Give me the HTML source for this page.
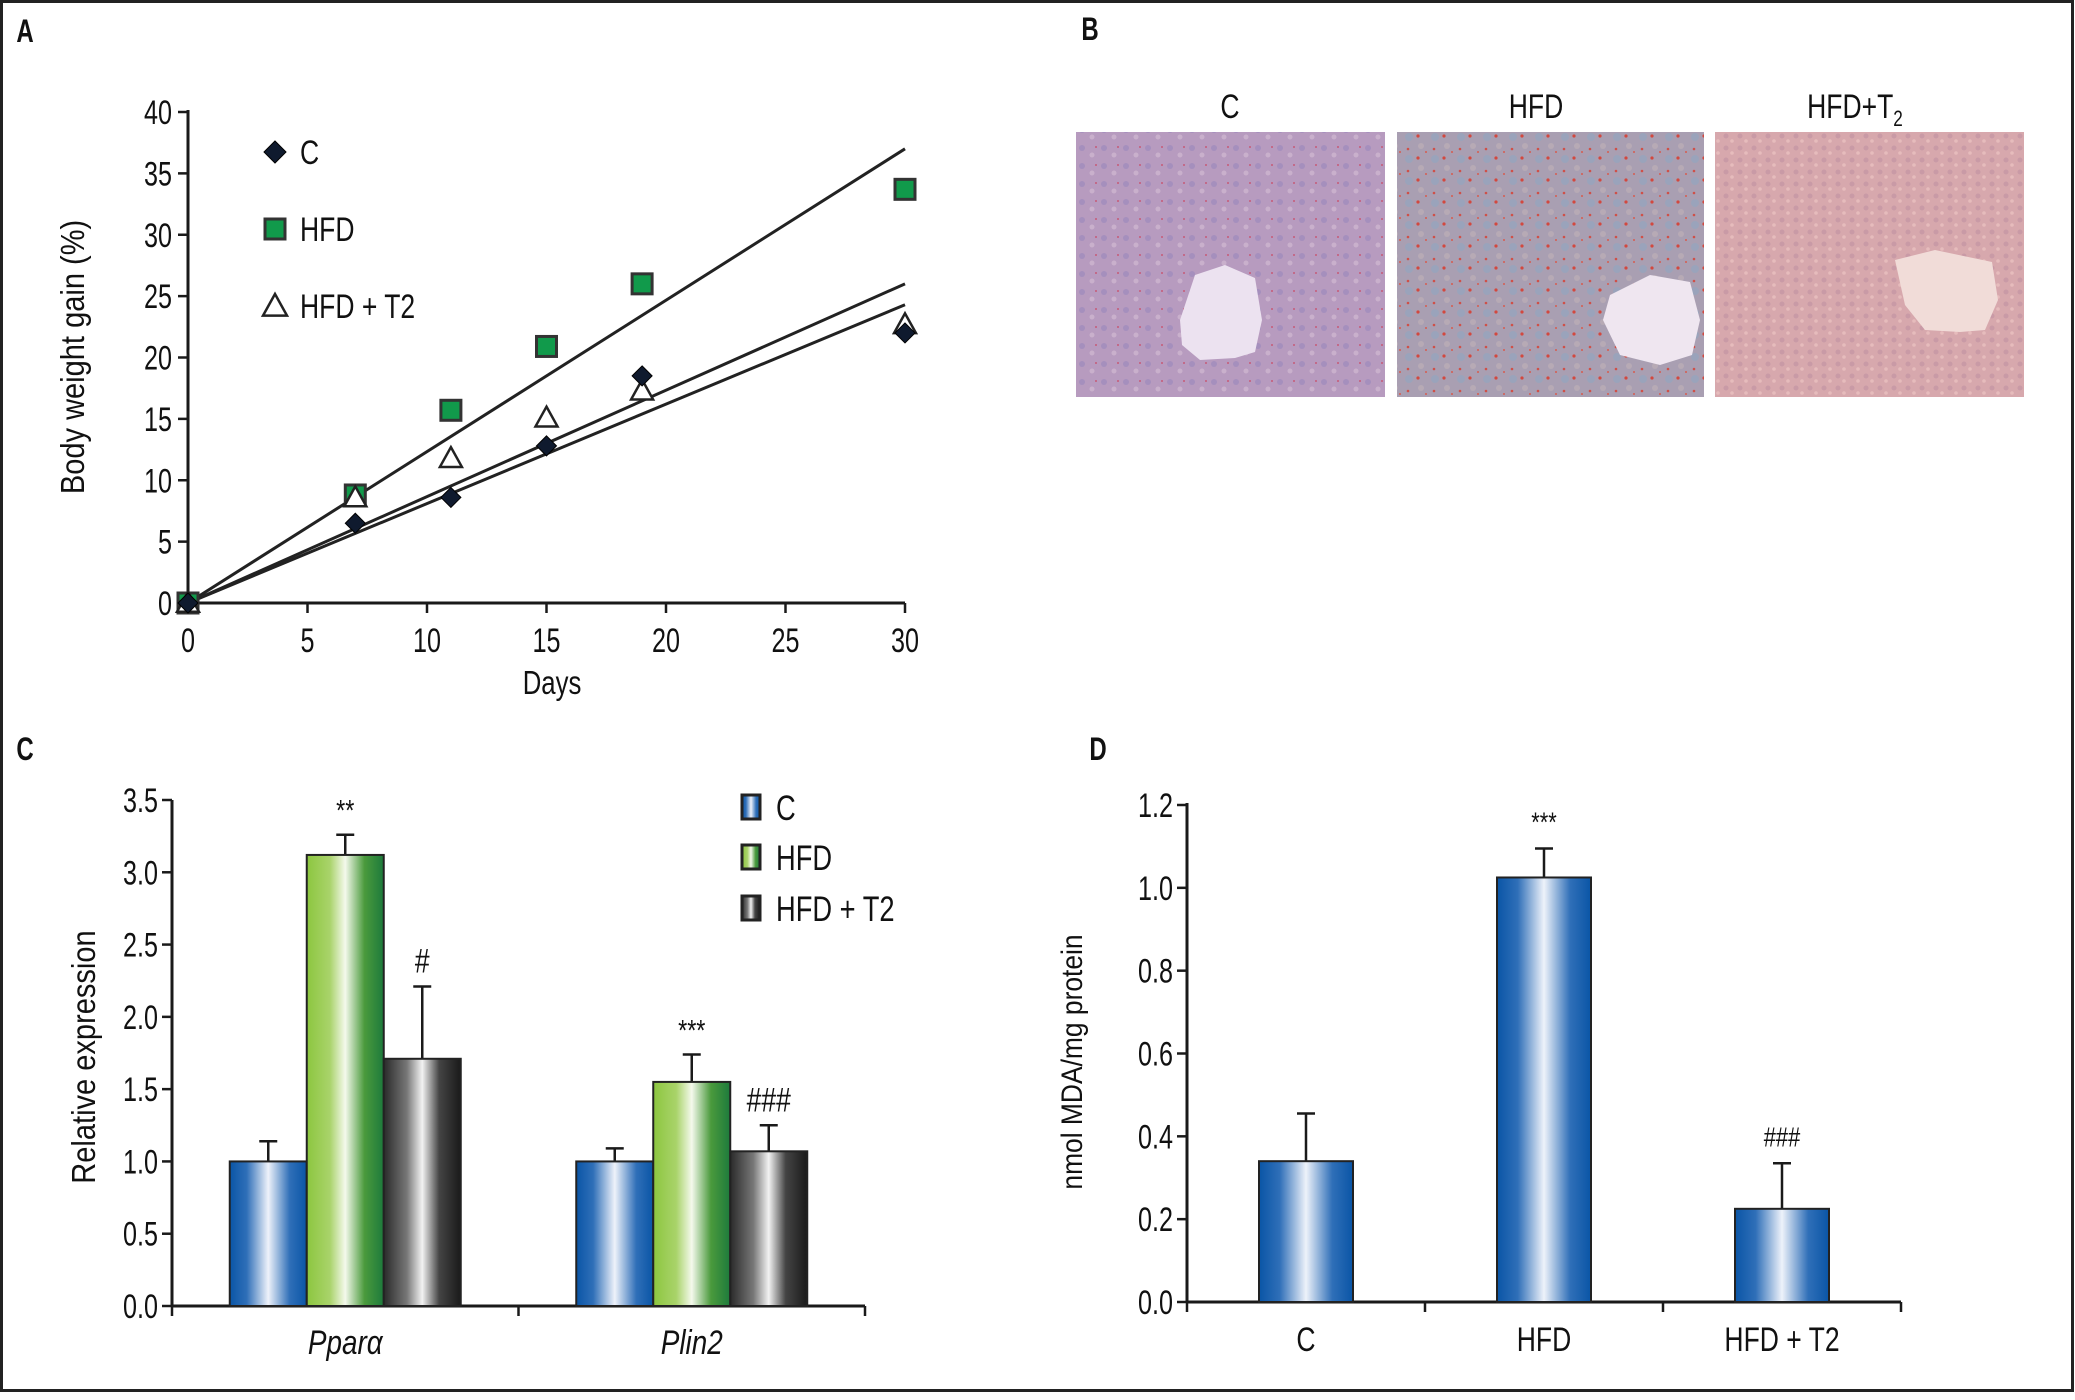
<!DOCTYPE html>
<html><head><meta charset="utf-8"><style>
html,body{margin:0;padding:0;background:#fff;}
svg{display:block;font-family:"Liberation Sans",sans-serif;}
</style></head><body>
<svg id="fig" width="2075" height="1400" viewBox="0 0 2075 1400" xmlns="http://www.w3.org/2000/svg">
<defs>
<linearGradient id="gBlue" x1="0" x2="1" y1="0" y2="0"><stop offset="0" stop-color="#0a55a6"/><stop offset="0.22" stop-color="#2f6fb8"/><stop offset="0.5" stop-color="#eef2fa"/><stop offset="0.78" stop-color="#2f6fb8"/><stop offset="1" stop-color="#0a55a6"/></linearGradient>
<linearGradient id="gGreen" x1="0" x2="1" y1="0" y2="0"><stop offset="0" stop-color="#8cc63f"/><stop offset="0.3" stop-color="#a9d36a"/><stop offset="0.5" stop-color="#f4f9ec"/><stop offset="0.75" stop-color="#4a9a3c"/><stop offset="1" stop-color="#1d7a3c"/></linearGradient>
<linearGradient id="gBlack" x1="0" x2="1" y1="0" y2="0"><stop offset="0" stop-color="#2a2a2a"/><stop offset="0.3" stop-color="#777"/><stop offset="0.5" stop-color="#f2f2f2"/><stop offset="0.72" stop-color="#444"/><stop offset="1" stop-color="#1a1a1a"/></linearGradient>
<pattern id="pC" width="22" height="18" patternUnits="userSpaceOnUse"><rect width="22" height="18" fill="#b79bbf"/><circle cx="4" cy="4" r="3" fill="#a58fbd"/><circle cx="14" cy="11" r="2.5" fill="#c9b0cc"/><circle cx="18" cy="3" r="1" fill="#c65a78"/></pattern>
<pattern id="pH" width="26" height="22" patternUnits="userSpaceOnUse"><rect width="26" height="22" fill="#a99fb2"/><circle cx="5" cy="5" r="4" fill="#9aa3bb"/><circle cx="17" cy="14" r="3" fill="#b7aab5"/><circle cx="14" cy="4" r="1.6" fill="#d2483f"/><circle cx="4" cy="17" r="1.3" fill="#cf5048"/><circle cx="22" cy="20" r="1" fill="#d65b4f"/></pattern>
<pattern id="pT" width="14" height="12" patternUnits="userSpaceOnUse"><rect width="14" height="12" fill="#d7a8ad"/><circle cx="4" cy="4" r="2.5" fill="#c99aa6"/><circle cx="10" cy="9" r="1.8" fill="#e6bcbc"/></pattern>
</defs>
<rect x="1.5" y="1.5" width="2071" height="1389" fill="none" stroke="#222" stroke-width="3"/>
</svg>
<script>
// ---------- Panel A data ----------
const daysA = [0, 7, 11, 15, 19, 30];
const gainC = [0, 6.5, 8.6, 12.8, 18.5, 22];
const gainHFD = [0, 8.8, 15.7, 20.9, 26, 33.7];
const gainT2 = [0, 8.6, 11.8, 15.1, 17.3, 22.7];
const fitEndA = [24.3, 37, 26];          // fitted line values at day 30: C, HFD, HFD+T2
const yTicksA = [0, 5, 10, 15, 20, 25, 30, 35, 40];
const xTicksA = [0, 5, 10, 15, 20, 25, 30];
// ---------- Panel C data ----------
const genesC = ["Ppar\u03b1", "Plin2"];
const exprC = [1.0, 1.0];
const exprHFD = [3.12, 1.55];
const exprT2 = [1.71, 1.07];
const errC = [0.14, 0.09];
const errHFD = [0.14, 0.19];
const errT2 = [0.50, 0.18];
const sigHFD = ["**", "***"];
const sigT2 = ["#", "###"];
const yTicksC = ["0.0", "0.5", "1.0", "1.5", "2.0", "2.5", "3.0", "3.5"];
// ---------- Panel D data ----------
const groupsD = ["C", "HFD", "HFD + T2"];
const mdaD = [0.34, 1.025, 0.225];
const mdaErr = [0.115, 0.07, 0.11];
const sigD = ["", "***", "###"];
const yTicksD = ["0.0", "0.2", "0.4", "0.6", "0.8", "1.0", "1.2"];

const svg = document.getElementById('fig');
const NS = 'http://www.w3.org/2000/svg';
function mk(tag, attrs, name) {
  const el = document.createElementNS(NS, tag);
  for (const k in attrs) el.setAttribute(k, attrs[k]);
  
  
  svg.appendChild(el);
  return el;
}
function txt(x, y, s, size, anchor, name, opts) {
  opts = opts || {};
  const sx = opts.sx || 0.78;
  const el = document.createElementNS(NS, 'text');
  el.setAttribute('transform', 'translate(' + x + ',' + y + ')' + (opts.rot ? ' rotate(' + opts.rot + ')' : '') + ' scale(' + sx + ',1)');
  el.setAttribute('font-size', size);
  el.setAttribute('text-anchor', anchor);
  el.setAttribute('fill', opts.fill || '#111');
  if (opts.italic) el.setAttribute('font-style', 'italic');
  if (opts.bold) el.setAttribute('font-weight', 'bold');
  el.textContent = s;
  
  
  svg.appendChild(el);
  return el;
}
function line(x1, y1, x2, y2, name, w) {
  return mk('line', {x1: x1, y1: y1, x2: x2, y2: y2, stroke: '#1a1a1a', 'stroke-width': w || 3}, name);
}

// ================= Panel A =================
const axA = {x0: 188, x1: 905, y0: 603, y1: 112};
const xA = d => axA.x0 + (d / 30) * (axA.x1 - axA.x0);
const yA = v => axA.y0 - (v / 40) * (axA.y0 - axA.y1);
txt(25, 42, 'A', 32, 'middle', 'panel-a-label', {bold: true, sx: 0.75});
line(axA.x0, axA.y1 - 2, axA.x0, axA.y0, 'a-y-axis');
line(axA.x0, axA.y0, axA.x1, axA.y0, 'a-x-axis');
yTicksA.forEach(t => {
  line(axA.x0 - 10, yA(t), axA.x0, yA(t), 'a-y-tick', 2.5);
  txt(axA.x0 - 16, yA(t) + 12, String(t), 34, 'end', 'a-y-tick-label', {sx: 0.74});
});
xTicksA.forEach(t => {
  line(xA(t), axA.y0, xA(t), axA.y0 + 10, 'a-x-tick', 2.5);
  txt(xA(t), 652, String(t), 34, 'middle', 'a-x-tick-label', {sx: 0.74});
});
txt(552, 694, 'Days', 33, 'middle', 'a-x-axis-title');
txt(84, 357, 'Body weight gain (%)', 33, 'middle', 'a-y-axis-title', {rot: -90, sx: 0.88});
// fit lines
const fitNames = ['fit-line-c', 'fit-line-hfd', 'fit-line-hfd-t2'];
fitEndA.forEach((v, i) => {
  mk('line', {x1: xA(0), y1: yA(0), x2: xA(30), y2: yA(v), stroke: '#222', 'stroke-width': 3}, fitNames[i]);
});
function diamond(cx, cy, r, name) {
  mk('polygon', {points: [cx, cy - r, cx + r, cy, cx, cy + r, cx - r, cy].join(','), fill: '#0f1a2e', stroke: '#000', 'stroke-width': 1}, name);
}
function square(cx, cy, r, name) {
  mk('rect', {x: cx - r, y: cy - r, width: 2 * r, height: 2 * r, fill: '#119a4b', stroke: '#333', 'stroke-width': 3}, name);
}
function tri(cx, cy, r, name) {
  mk('polygon', {points: [cx, cy - r, cx + r, cy + r * 0.8, cx - r, cy + r * 0.8].join(','), fill: '#fff', stroke: '#222', 'stroke-width': 2.5}, name);
}
daysA.forEach((d, i) => square(xA(d), yA(gainHFD[i]), 10, 'point-hfd'));
daysA.forEach((d, i) => tri(xA(d), yA(gainT2[i]), 11, 'point-hfd-t2'));
daysA.forEach((d, i) => diamond(xA(d), yA(gainC[i]), 10, 'point-c'));
// legend A
diamond(275, 152, 11, 'a-legend-c-marker');
txt(300, 164, 'C', 34, 'start', 'a-legend-c-label');
square(275, 229, 10, 'a-legend-hfd-marker');
txt(300, 241, 'HFD', 34, 'start', 'a-legend-hfd-label');
tri(275, 306, 12, 'a-legend-hfd-t2-marker');
txt(300, 318, 'HFD + T2', 34, 'start', 'a-legend-hfd-t2-label');

// ================= Panel B =================
txt(1090, 40, 'B', 32, 'middle', 'panel-b-label', {bold: true, sx: 0.75});
const imgs = [
  {x: 1076, w: 309, fill: 'url(#pC)', title: 'C', cx: 1230, name: 'histology-c', blob: [[1180,320],[1195,275],[1225,265],[1255,278],[1262,320],[1255,352],[1235,358],[1200,360],[1182,345]], bf: '#ece2f0'},
  {x: 1397, w: 307, fill: 'url(#pH)', title: 'HFD', cx: 1536, name: 'histology-hfd', blob: [[1610,295],[1650,275],[1690,282],[1700,320],[1692,355],[1660,365],[1620,355],[1603,320]], bf: '#efe6f0'},
  {x: 1715, w: 309, fill: 'url(#pT)', title: 'HFD+T', cx: 1855, name: 'histology-hfd-t2', blob: [[1895,260],[1935,250],[1992,262],[1998,300],[1985,330],[1960,332],[1925,330],[1905,305]], bf: '#f1dcd8'}
];
imgs.forEach(im => {
  mk('rect', {x: im.x, y: 132, width: im.w, height: 265, fill: im.fill}, im.name);
  mk('polygon', {points: im.blob.map(p => p.join(',')).join(' '), fill: im.bf}, im.name + '-vessel');
  const t = txt(im.cx, 118, im.title, 34, 'middle', im.name + '-title');
  if (im.title === 'HFD+T') {
    const ts = document.createElementNS(NS, 'tspan');
    ts.setAttribute('font-size', 22);
    ts.setAttribute('dy', 8);
    ts.textContent = '2';
    t.appendChild(ts);
  }
});

// ================= Panel C =================
const axC = {x0: 172, x1: 865, y0: 1306, y1: 800};
const yC = v => axC.y0 - (v / 3.5) * (axC.y0 - axC.y1);
txt(25, 760, 'C', 32, 'middle', 'panel-c-label', {bold: true, sx: 0.75});
line(axC.x0, axC.y1, axC.x0, axC.y0, 'c-y-axis');
line(axC.x0, axC.y0, axC.x1, axC.y0, 'c-x-axis');
yTicksC.forEach(t => {
  const v = parseFloat(t);
  line(axC.x0 - 10, yC(v), axC.x0, yC(v), 'c-y-tick', 2.5);
  txt(axC.x0 - 14, yC(v) + 12, t, 34, 'end', 'c-y-tick-label', {sx: 0.74});
});
[0, 1, 2].forEach(i => {
  const x = axC.x0 + i * (axC.x1 - axC.x0) / 2;
  line(x, axC.y0, x, axC.y0 + 10, 'c-x-tick', 2.5);
});
txt(95, 1057, 'Relative expression', 33, 'middle', 'c-y-axis-title', {rot: -90, sx: 0.88});
const barW = 77;
const seriesC = [
  {vals: exprC, err: errC, fill: 'url(#gBlue)', sig: null, name: 'bar-c'},
  {vals: exprHFD, err: errHFD, fill: 'url(#gGreen)', sig: sigHFD, name: 'bar-hfd'},
  {vals: exprT2, err: errT2, fill: 'url(#gBlack)', sig: sigT2, name: 'bar-hfd-t2'}
];
genesC.forEach((g, gi) => {
  const groupCenter = axC.x0 + (gi + 0.5) * (axC.x1 - axC.x0) / 2;
  seriesC.forEach((s, si) => {
    const bx = groupCenter - 1.5 * barW + si * barW;
    const top = yC(s.vals[gi]);
    const etop = yC(s.vals[gi] + s.err[gi]);
    line(bx + barW / 2, top, bx + barW / 2, etop, s.name + '-error', 2.5);
    line(bx + barW / 2 - 9, etop, bx + barW / 2 + 9, etop, s.name + '-error-cap', 2.5);
    mk('rect', {x: bx, y: top, width: barW, height: axC.y0 - top, fill: s.fill, stroke: '#222', 'stroke-width': 2}, s.name);
    if (s.sig) txt(bx + barW / 2, etop - 14, s.sig[gi], s.sig[gi].indexOf('#') >= 0 ? 34 : 30, 'middle', s.name + '-significance');
  });
  txt(groupCenter, 1354, g, 34, 'middle', 'c-category-label', {italic: true, sx: 0.82});
});
// legend C
const legC = [['url(#gBlue)', 'C', 807], ['url(#gGreen)', 'HFD', 857], ['url(#gBlack)', 'HFD + T2', 908]];
legC.forEach(l => {
  mk('rect', {x: 742, y: l[2] - 12, width: 18, height: 24, fill: l[0], stroke: '#222', 'stroke-width': 3}, 'c-legend-marker');
  txt(776, l[2] + 13, l[1], 35, 'start', 'c-legend-label');
});

// ================= Panel D =================
const axD = {x0: 1187, x1: 1901, y0: 1302, y1: 805};
const yD = v => axD.y0 - (v / 1.2) * (axD.y0 - axD.y1);
txt(1098, 760, 'D', 32, 'middle', 'panel-d-label', {bold: true, sx: 0.75});
line(axD.x0, axD.y1 - 2, axD.x0, axD.y0, 'd-y-axis');
line(axD.x0, axD.y0, axD.x1, axD.y0, 'd-x-axis');
yTicksD.forEach(t => {
  const v = parseFloat(t);
  line(axD.x0 - 10, yD(v), axD.x0, yD(v), 'd-y-tick', 2.5);
  txt(axD.x0 - 14, yD(v) + 12, t, 34, 'end', 'd-y-tick-label', {sx: 0.74});
});
[0, 1, 2, 3].forEach(i => {
  const x = axD.x0 + i * (axD.x1 - axD.x0) / 3;
  line(x, axD.y0, x, axD.y0 + 10, 'd-x-tick', 2.5);
});
txt(1082, 1062, 'nmol MDA/mg protein', 30, 'middle', 'd-y-axis-title', {rot: -90, sx: 0.88});
const barWD = 94;
groupsD.forEach((g, i) => {
  const cx = axD.x0 + (i + 0.5) * (axD.x1 - axD.x0) / 3;
  const top = yD(mdaD[i]);
  const etop = yD(mdaD[i] + mdaErr[i]);
  line(cx, top, cx, etop, 'd-error-bar', 2.5);
  line(cx - 9, etop, cx + 9, etop, 'd-error-cap', 2.5);
  mk('rect', {x: cx - barWD / 2, y: top, width: barWD, height: axD.y0 - top, fill: 'url(#gBlue)', stroke: '#222', 'stroke-width': 2}, 'd-bar');
  if (sigD[i]) txt(cx, etop - 17, sigD[i], 28, 'middle', 'd-significance');
  txt(cx, 1351, g, 34, 'middle', 'd-category-label');
});
</script>
</body></html>
